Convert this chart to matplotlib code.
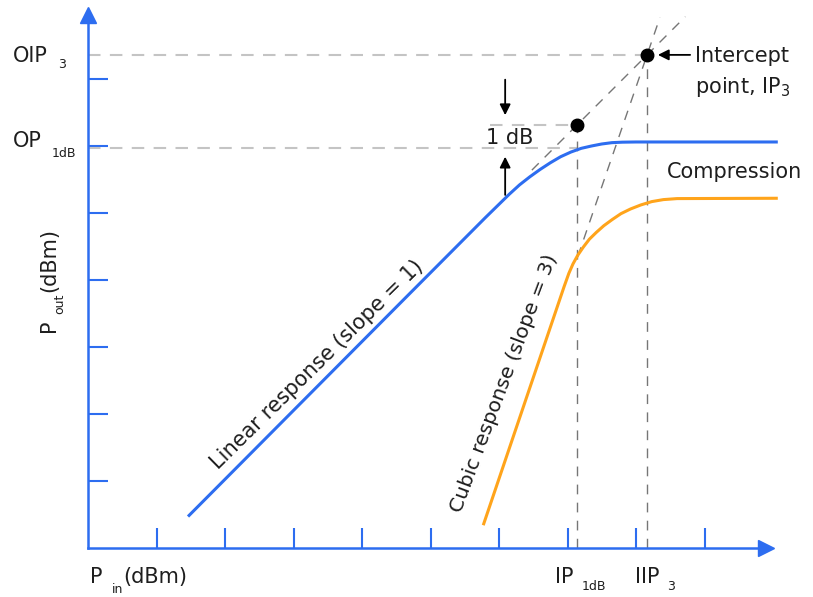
import matplotlib.pyplot as plt

# one data unit = one tick step on each axis
x_ticks = list(range(1, 10))
y_ticks = list(range(1, 8))

# fundamental (linear) output
pin_linear = [1.46, 4.65, 5.80, 6.00, 6.15, 6.30, 6.45, 6.60, 6.75, 6.90, 7.05,
              7.20, 7.35, 7.50, 7.65, 7.80, 8.00, 10.07]
pout_linear = [0.47, 3.75, 4.93, 5.13, 5.28, 5.42, 5.54, 5.65, 5.75, 5.84, 5.91,
               5.965, 6.00, 6.03, 6.05, 6.057, 6.06, 6.06]

# third-order (cubic) output
pin_cubic = [5.77, 6.95, 7.02, 7.08, 7.15, 7.23, 7.32, 7.42, 7.53, 7.65, 7.78,
             7.92, 8.07, 8.23, 8.40, 8.60, 10.07]
pout_cubic = [0.34, 3.90, 4.10, 4.24, 4.37, 4.49, 4.61, 4.71, 4.81, 4.90, 4.99,
              5.06, 5.12, 5.17, 5.20, 5.215, 5.22]

# characteristic points
ip1db = 7.14
op1db = 5.97
op1db_ideal = 6.31
iip3 = 8.165
oip3 = 7.36

# dashed extrapolations of the two responses
linear_ext_x = [6.48, 8.72]
linear_ext_y = [5.64, 7.93]
cubic_ext_x = [7.15, 8.35]
cubic_ext_y = [4.35, 7.92]

BLUE = "#2d6df0"
ORANGE = "#ffa41b"
TEXT = "#1e1e1e"
LIGHT = "#c4c4c4"
DARK = "#767676"

fig = plt.figure(figsize=(8.13, 5.97), dpi=100)
ax = fig.add_axes([0, 0, 1, 1])
ax.set_xlim(-88 / 68.5, 725 / 68.5)
ax.set_ylim(-49 / 67, 548 / 67)

# axes with arrows
for side in ["top", "right"]:
    ax.spines[side].set_visible(False)
for side in ["left", "bottom"]:
    ax.spines[side].set_position(("data", 0))
    ax.spines[side].set_color(BLUE)
    ax.spines[side].set_linewidth(1.8)
ax.spines["left"].set_bounds(0, 7.95)
ax.spines["bottom"].set_bounds(0, 9.9)
ax.plot(0, 7.95, marker="^", color=BLUE, markersize=12, clip_on=False)
ax.plot(9.9, 0, marker=">", color=BLUE, markersize=12, clip_on=False)
ax.set_xticks(x_ticks)
ax.set_yticks(y_ticks)
ax.tick_params(direction="in", length=14.5, width=1.5, color=BLUE,
               labelbottom=False, labelleft=False)

# light reference lines
ax.plot([0, iip3], [oip3, oip3], color=LIGHT, lw=1.5, dashes=(6, 4.5))
ax.plot([0, ip1db], [op1db, op1db], color=LIGHT, lw=1.5, dashes=(6, 4.5))
ax.plot([5.87, ip1db], [op1db_ideal, op1db_ideal], color=LIGHT, lw=1.5, dashes=(6, 4.5))

# dark construction lines
ax.plot([ip1db, ip1db], [0, op1db_ideal], color=DARK, lw=1.0, dashes=(7, 6))
ax.plot([iip3, iip3], [0, oip3], color=DARK, lw=1.0, dashes=(7, 6))
ax.plot(linear_ext_x, linear_ext_y, color=DARK, lw=1.0, dashes=(7, 6))
ax.plot(cubic_ext_x, cubic_ext_y, color=DARK, lw=1.0, dashes=(7, 6))

# responses
ax.plot(pin_linear, pout_linear, color=BLUE, lw=2.2, solid_capstyle="butt",
        solid_joinstyle="round")
ax.plot(pin_cubic, pout_cubic, color=ORANGE, lw=2.2, solid_capstyle="butt",
        solid_joinstyle="round")

ax.plot([ip1db, iip3], [op1db_ideal, oip3], "o", color="black", markersize=9)

# 1 dB arrows and intercept arrow
arrow = dict(arrowstyle="-|>", color="black", lw=1.3, mutation_scale=16,
             shrinkA=0, shrinkB=0)
ax.annotate("", xy=(6.09, 6.46), xytext=(6.09, 6.99), arrowprops=arrow)
ax.annotate("", xy=(6.09, 5.84), xytext=(6.09, 5.27), arrowprops=arrow)
ax.annotate("", xy=(8.32, oip3), xytext=(8.79, oip3), arrowprops=arrow)

fs = 15
sub = 9
ax.text(6.15, 6.12, "1 dB", fontsize=fs, color=TEXT, ha="center", va="center")
ax.text(8.45, 5.52, "Compression", fontsize=fs, color=TEXT, ha="left", va="baseline")
ax.text(8.86, 7.25, "Intercept", fontsize=fs, color=TEXT, ha="left", va="baseline")
ax.text(8.86, 6.79, "point, IP$_3$", fontsize=fs, color=TEXT, ha="left", va="baseline")

ax.text(3.34, 2.73, "Linear response (slope = 1)", fontsize=fs, color=TEXT,
        rotation=44.5, rotation_mode="anchor", ha="center", va="center")
ax.text(6.07, 2.46, "Cubic response (slope = 3)", fontsize=14.6, color=TEXT,
        rotation=69.5, rotation_mode="anchor", ha="center", va="center")

# y-axis labels
ax.text(-1.10, 7.26, "OIP", fontsize=fs, color=TEXT, ha="left", va="baseline")
ax.text(-0.44, 7.16, "3", fontsize=sub, color=TEXT, ha="left", va="baseline")
ax.text(-1.10, 5.99, "OP", fontsize=fs, color=TEXT, ha="left", va="baseline")
ax.text(-0.53, 5.84, "1dB", fontsize=sub, color=TEXT, ha="left", va="baseline")
ax.text(-0.48, 3.22, "P", fontsize=fs, color=TEXT, rotation=90,
        rotation_mode="anchor", ha="left", va="baseline")
ax.text(-0.36, 3.50, "out", fontsize=sub, color=TEXT, rotation=90,
        rotation_mode="anchor", ha="left", va="baseline")
ax.text(-0.48, 3.82, "(dBm)", fontsize=fs, color=TEXT, rotation=90,
        rotation_mode="anchor", ha="left", va="baseline")

# x-axis labels
ax.text(0.03, -0.52, "P", fontsize=fs, color=TEXT, ha="left", va="baseline")
ax.text(0.35, -0.67, "in", fontsize=sub, color=TEXT, ha="left", va="baseline")
ax.text(0.51, -0.52, "(dBm)", fontsize=fs, color=TEXT, ha="left", va="baseline")
ax.text(6.82, -0.52, "IP", fontsize=fs, color=TEXT, ha="left", va="baseline")
ax.text(7.21, -0.63, "1dB", fontsize=sub, color=TEXT, ha="left", va="baseline")
ax.text(7.99, -0.52, "IIP", fontsize=fs, color=TEXT, ha="left", va="baseline")
ax.text(8.45, -0.63, "3", fontsize=sub, color=TEXT, ha="left", va="baseline")

fig.savefig("out.png", dpi=100)
